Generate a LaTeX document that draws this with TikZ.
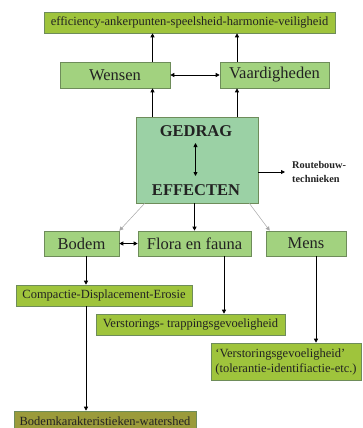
\documentclass[tikz,border=0pt]{standalone}
\usepackage{fontspec}
\setmainfont{Liberation Serif}
\usetikzlibrary{arrows.meta}
\definecolor{ygreen}{HTML}{9FC43C}
\definecolor{lgreen}{HTML}{A2D27F}
\definecolor{mint}{HTML}{9BD1A5}
\definecolor{olive}{HTML}{9B9B3B}
\definecolor{bordc}{HTML}{6E8C5A}
\definecolor{txt}{HTML}{222222}
\tikzset{
  box/.style={draw=bordc, line width=0.6pt, inner sep=0pt, text=txt, anchor=center},
  big/.style={box, fill=lgreen, font=\fontsize{16.5}{18}\selectfont},
  small/.style={box, fill=ygreen, font=\fontsize{12.5}{14}\selectfont},
  arr/.style={line width=0.8pt, -{Triangle[length=4pt,width=4pt]}},
  darr/.style={line width=0.8pt, {Triangle[length=4pt,width=4pt]}-{Triangle[length=4pt,width=4pt]}},
  garr/.style={draw=gray!70, line width=0.5pt, -{Triangle[length=4pt,width=4pt]}},
}
\begin{document}
\begin{tikzpicture}[x=1pt,y=-1pt]
\useasboundingbox (0,0) rectangle (362,428);
\node[small, minimum width=291, minimum height=21] (top) at (189.5,22.5) {efficiency-ankerpunten-speelsheid-harmonie-veiligheid};
\node[big, minimum width=110, minimum height=26] (w) at (115,75) {Wensen};
\node[big, minimum width=109, minimum height=26] (v) at (274.5,75) {Vaardigheden};
\node[box, fill=mint, minimum width=122, minimum height=86] (g) at (197,160) {};
\node[font=\bfseries\fontsize{16.5}{18}\selectfont, text=txt, inner sep=0pt] (gt) at (196,131) {GEDRAG};
\node[font=\bfseries\fontsize{16.5}{18}\selectfont, text=txt, inner sep=0pt] (et) at (196,190) {EFFECTEN};
\node[anchor=west, inner xsep=7pt, inner ysep=0pt, align=left, font=\bfseries\fontsize{10.3}{13.5}\selectfont, text=txt] (rb) at (285,172) {Routebouw-\\technieken};
\node[big, minimum width=75, minimum height=25] (b) at (81.5,243.5) {Bodem};
\node[big, minimum width=113, minimum height=25] (f) at (194.5,243.5) {Flora en fauna};
\node[big, minimum width=80, minimum height=25] (m) at (306,243.5) {Mens};
\node[small, minimum width=176, minimum height=21] (c) at (104,295.5) {Compactie-Displacement-Erosie};
\node[small, minimum width=189, minimum height=21] (vs) at (190.5,324.5) {Verstorings- trappingsgevoeligheid};
\node[small, minimum width=150, minimum height=37, align=left, font=\fontsize{12.5}{15}\selectfont] (v2) at (286,361.5) {`Verstoringsgevoeligheid'\\(tolerantie-identifiactie-etc.)};
\node[small, fill=olive, minimum width=182, minimum height=21] (bk) at (105,421.5) {Bodemkarakteristieken-watershed};
\coordinate (xl) at (152.5,0);
\coordinate (xr) at (237,0);
\coordinate (xb) at (86,0);
\coordinate (xf) at (224,0);
\coordinate (xm) at (316,0);
\draw[arr] (w.north -| xl) -- (top.south -| xl);
\draw[arr] (v.north -| xr) -- (top.south -| xr);
\draw[darr] (w.east) -- (v.west);
\draw[arr] (g.north -| xl) -- (w.south -| xl);
\draw[arr] (g.north -| xr) -- (v.south -| xr);
\draw[darr] ([xshift=-1.5,yshift=17]g.center) -- ([xshift=-1.5,yshift=-16]g.center);
\draw[arr] (g.east |- rb.west) -- (rb.west);
\draw[garr] ([xshift=9]g.south west) -- (b.north east);
\draw[garr] ([xshift=-9]g.south east) -- ([xshift=4]m.north west);
\draw[arr] (g.south -| f.north) -- (f.north);
\draw[darr] (b.east) -- (f.west);
\draw[arr] (b.south -| xb) -- (c.north -| xb);
\draw[arr] (c.south -| xb) -- (bk.north -| xb);
\draw[arr] (f.south -| xf) -- (vs.north -| xf);
\draw[arr] (m.south -| xm) -- (v2.north -| xm);
\end{tikzpicture}
\end{document}
